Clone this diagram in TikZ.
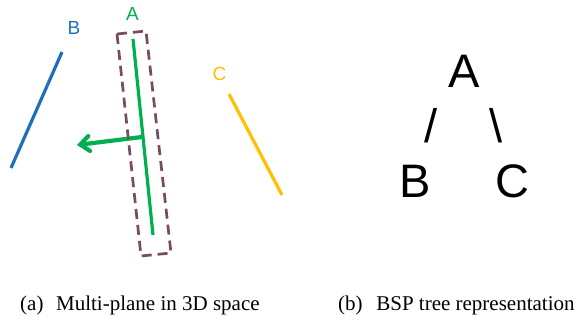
\documentclass[tikz,border=0pt]{standalone}
\usepackage{fontspec}
\setmainfont{Liberation Serif}
\setsansfont{Liberation Sans}
\usetikzlibrary{arrows.meta}
\definecolor{bblue}{HTML}{1F6FC0}
\definecolor{agreen}{HTML}{00B050}
\definecolor{corange}{HTML}{FFC000}
\definecolor{boxc}{HTML}{7A4A5E}
\tikzset{
  plane/.style={line width=3.2pt},
  lbl/.style={font=\sffamily\fontsize{19}{19}\selectfont, inner sep=0pt},
  tree/.style={font=\sffamily\fontsize{47}{47}\selectfont, inner sep=0pt},
  captext/.style={font=\fontsize{21}{21}\selectfont, inner sep=0pt, anchor=base west}
}
\begin{document}
\begin{tikzpicture}[x=1pt,y=-1pt]
\useasboundingbox (0,0) rectangle (580,320);
% B
\coordinate (b1) at (62,52);
\coordinate (b2) at (11,168);
\draw[plane,bblue] (b1) -- (b2);
\node[lbl,text=bblue] (lb) at (74,27.5) {B};
% A
\coordinate (a1) at (133,39);
\coordinate (a2) at (153,235);
\draw[plane,agreen] (a1) -- (a2);
\node[lbl,text=agreen] (la) at (132.5,14) {A};
\coordinate (n1) at (142,137);
\coordinate (n2) at (77,145);
\draw[agreen,line width=4.2pt,-{Straight Barb[length=9pt,width=15pt,line cap=round]},line cap=round] (n1) -- (n2);
% dashed box
\coordinate (d1) at (117,34);
\coordinate (d2) at (146,31);
\coordinate (d3) at (171,253);
\coordinate (d4) at (141,256);
\draw[boxc,line width=2.7pt,dash pattern=on 10pt off 6pt] (d1) -- (d2) -- (d3) -- (d4) -- cycle;
% C
\coordinate (c1) at (229,94);
\coordinate (c2) at (282,195);
\draw[plane,corange] (c1) -- (c2);
\node[lbl,text=corange] (lc) at (219.5,74) {C};
% tree
\node[tree] (tA) at (464,71) {A};
\node[tree] (tB) at (415.5,181) {B};
\node[tree] (tC) at (512,181.5) {C};
\node[tree] (s1) at (431.5,126) {/};
\node[tree] (s2) at (496,126) {\textbackslash};
% captions
\node[captext] (ca) at (20,310) {(a)\hspace{0.6em}Multi-plane in 3D space};
\node[captext] (cb) at (338,310) {(b)\hspace{0.65em}BSP tree representation};
\end{tikzpicture}
\end{document}
